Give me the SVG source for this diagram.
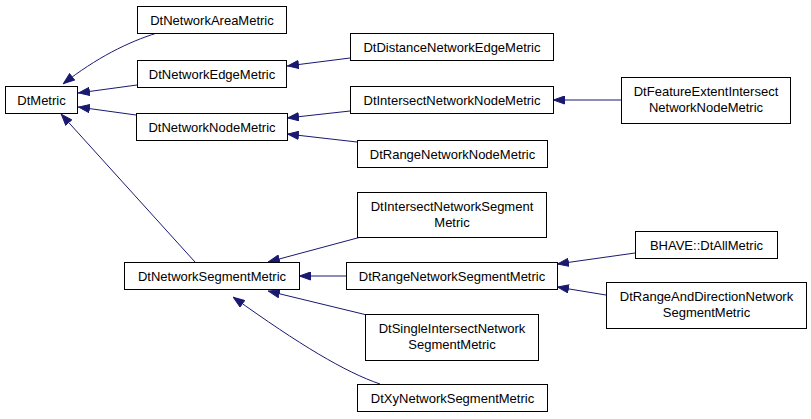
<svg xmlns="http://www.w3.org/2000/svg" width="811" height="419" viewBox="0 0 811 419">
<style>
.n rect{fill:#fff;stroke:#000;stroke-width:1}
.n text{font-family:"Liberation Sans",Arial,sans-serif;font-size:13px;text-anchor:middle;fill:#000}
.e path{fill:none;stroke:#191970;stroke-width:1;marker-end:url(#a)}
</style>
<defs>
<marker id="a" viewBox="0 0 12 9" refX="12" refY="4.5" markerWidth="12" markerHeight="9" markerUnits="userSpaceOnUse" orient="auto">
<path d="M0.5,0.5 L11.5,4.5 L0.5,8.5 z" fill="#191970" stroke="#191970"/>
</marker>
</defs>
<rect width="811" height="419" fill="#fff"/>
<g id="edges" class="e">
<path d="M157,33 C128,42 96,58 63,84"/>
<path d="M137,85 L78,93"/>
<path d="M136,115 L78,107"/>
<path d="M195,262 L61,114"/>
<path d="M350,58 L287,66"/>
<path d="M350,111 L287,118"/>
<path d="M357,142 L287,134"/>
<path d="M621,100 L553,100"/>
<path d="M361,237 L268,262"/>
<path d="M346,276 L299,276"/>
<path d="M367,315 L268,291"/>
<path d="M380,384 C345,372 300,345 233,297"/>
<path d="M635,253 L557,264"/>
<path d="M606,295 L557,287"/>
</g>
<g id="DtMetric" class="n"><rect x="5.5" y="86.5" width="72" height="27"/><text x="41.5" y="104.5">DtMetric</text></g>
<g id="DtNetworkAreaMetric" class="n"><rect x="137.5" y="6.5" width="149" height="27"/><text x="212" y="24.5">DtNetworkAreaMetric</text></g>
<g id="DtNetworkEdgeMetric" class="n"><rect x="137.5" y="60.5" width="149" height="27"/><text x="212" y="78.5">DtNetworkEdgeMetric</text></g>
<g id="DtNetworkNodeMetric" class="n"><rect x="136.5" y="113.5" width="151" height="27"/><text x="212" y="131.5">DtNetworkNodeMetric</text></g>
<g id="DtDistanceNetworkEdgeMetric" class="n"><rect x="350.5" y="33.5" width="203" height="27"/><text x="452" y="51.5">DtDistanceNetworkEdgeMetric</text></g>
<g id="DtIntersectNetworkNodeMetric" class="n"><rect x="350.5" y="86.5" width="203" height="27"/><text x="452" y="104.5">DtIntersectNetworkNodeMetric</text></g>
<g id="DtRangeNetworkNodeMetric" class="n"><rect x="357.5" y="140.5" width="190" height="27"/><text x="452.5" y="158.5">DtRangeNetworkNodeMetric</text></g>
<g id="DtFeatureExtentIntersectNetworkNodeMetric" class="n"><rect x="621.5" y="77.5" width="169" height="46"/><text x="706" y="95.5">DtFeatureExtentIntersect</text><text x="706" y="111.5">NetworkNodeMetric</text></g>
<g id="DtNetworkSegmentMetric" class="n"><rect x="124.5" y="262.5" width="175" height="27"/><text x="212" y="280.5">DtNetworkSegmentMetric</text></g>
<g id="DtIntersectNetworkSegmentMetric" class="n"><rect x="357.5" y="192.5" width="189" height="45"/><text x="452" y="210.5">DtIntersectNetworkSegment</text><text x="452" y="226.5">Metric</text></g>
<g id="DtRangeNetworkSegmentMetric" class="n"><rect x="346.5" y="262.5" width="211" height="27"/><text x="452" y="280.5">DtRangeNetworkSegmentMetric</text></g>
<g id="DtSingleIntersectNetworkSegmentMetric" class="n"><rect x="365.5" y="314.5" width="173" height="46"/><text x="452" y="332.5">DtSingleIntersectNetwork</text><text x="452" y="348.5">SegmentMetric</text></g>
<g id="DtXyNetworkSegmentMetric" class="n"><rect x="357.5" y="384.5" width="190" height="27"/><text x="452.5" y="402.5">DtXyNetworkSegmentMetric</text></g>
<g id="BHAVE_DtAllMetric" class="n"><rect x="635.5" y="231.5" width="142" height="27"/><text x="706.5" y="249.5">BHAVE::DtAllMetric</text></g>
<g id="DtRangeAndDirectionNetworkSegmentMetric" class="n"><rect x="606.5" y="282.5" width="200" height="46"/><text x="706.5" y="300.5">DtRangeAndDirectionNetwork</text><text x="706.5" y="316.5">SegmentMetric</text></g>
</svg>
